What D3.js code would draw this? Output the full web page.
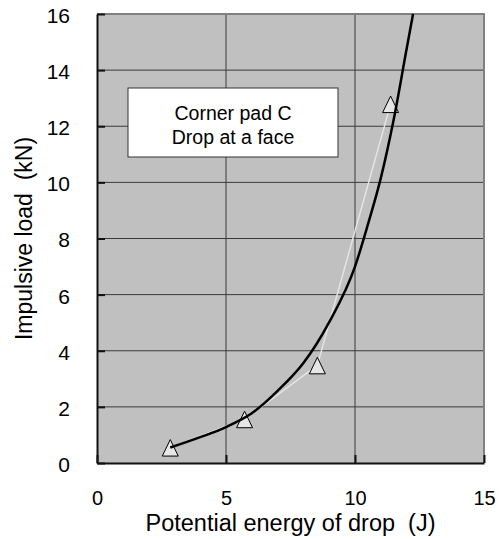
<!DOCTYPE html>
<html>
<head>
<meta charset="utf-8">
<script src="https://cdn.jsdelivr.net/npm/d3@7"></script>
<style>
  body { margin: 0; background: #fff; }
  text { font-family: "Liberation Sans", Arial, sans-serif; }
</style>
</head>
<body>
<div class="chart-container"></div>
<script>
// measured drops (triangles)
const energy = [2.84, 5.72, 8.54, 11.38]
const load = [0.55, 1.56, 3.48, 12.79]

// black fitted curve
const fitEnergy = [2.84, 4, 5, 6, 7, 8, 9, 10, 10.5, 11, 11.5, 12, 12.25]
const fitLoad = [0.55, 0.92, 1.28, 1.77, 2.57, 3.56, 5.02, 7.0, 8.5, 10.15, 12.24, 14.75, 16]

const xTicks = [0, 5, 10, 15]
const yTicks = [0, 2, 4, 6, 8, 10, 12, 14, 16]
const boxLines = ['Corner pad C', 'Drop at a face']

let dimensions = {
    width: 503,
    height: 539,
    margin: {
        top: 14,
        bottom: 76,
        left: 97,
        right: 19
    }
}

const svg = d3.select('.chart-container')
    .append('svg')
    .attr('width', dimensions.width)
    .attr('height', dimensions.height)

const container = svg.append('g')
    .attr('transform', `translate(${dimensions.margin.left},${dimensions.margin.top})`)

const containerWidth = dimensions.width - dimensions.margin.left - dimensions.margin.right
const containerHeight = dimensions.height - dimensions.margin.top - dimensions.margin.bottom

const xScale = d3.scaleLinear()
    .domain([0, 15])
    .range([0, containerWidth])

const yScale = d3.scaleLinear()
    .domain([0, 16])
    .range([containerHeight, 0])

// plot background
container.append('rect')
    .attr('width', containerWidth)
    .attr('height', containerHeight)
    .attr('fill', '#c0c0c0')

// grid
container.append('g')
    .selectAll('line')
    .data(xTicks.slice(1, -1))
    .join('line')
    .attr('x1', d => xScale(d)).attr('x2', d => xScale(d))
    .attr('y1', 0).attr('y2', containerHeight)
    .attr('stroke', '#3a3a3a')
    .attr('stroke-width', 1)

container.append('g')
    .selectAll('line')
    .data(yTicks.slice(1, -1))
    .join('line')
    .attr('x1', 0).attr('x2', containerWidth)
    .attr('y1', d => yScale(d)).attr('y2', d => yScale(d))
    .attr('stroke', '#3a3a3a')
    .attr('stroke-width', 1)

// top and right border
container.append('path')
    .attr('d', `M0,0H${containerWidth}V${containerHeight}`)
    .attr('fill', 'none')
    .attr('stroke', '#808080')
    .attr('stroke-width', 2)

// X Axis
const xAxis = d3.axisBottom(xScale)
    .tickValues(xTicks)
    .tickSizeInner(-8)
    .tickSizeOuter(0)
    .tickPadding(28)

const xAxisGroup = container.append('g')
    .attr('transform', `translate(0, ${containerHeight})`)
    .call(xAxis)
xAxisGroup.select('.domain').attr('stroke', '#111').attr('stroke-width', 2)
xAxisGroup.selectAll('.tick line').attr('stroke', '#111').attr('stroke-width', 2)
xAxisGroup.selectAll('text')
    .attr('font-size', '20px')
    .attr('fill', '#000')
    .style('font-family', '"Liberation Sans", Arial, sans-serif')

container.append('text')
    .attr('x', containerWidth / 2)
    .attr('y', containerHeight + 68)
    .attr('font-size', '23.5px')
    .attr('text-anchor', 'middle')
    .style('white-space', 'pre')
    .text('Potential energy of drop  (J)')

// Y Axis
const yAxis = d3.axisLeft(yScale)
    .tickValues(yTicks)
    .tickSizeInner(-8)
    .tickSizeOuter(0)
    .tickPadding(27)

const yAxisGroup = container.append('g')
    .call(yAxis)
yAxisGroup.select('.domain').attr('stroke', '#111').attr('stroke-width', 2)
yAxisGroup.selectAll('.tick line').attr('stroke', '#111').attr('stroke-width', 2)
yAxisGroup.selectAll('text')
    .attr('font-size', '21px')
    .attr('dy', '0.4em')
    .attr('fill', '#000')
    .style('font-family', '"Liberation Sans", Arial, sans-serif')

container.append('text')
    .attr('x', -containerHeight / 2)
    .attr('y', -65)
    .attr('font-size', '23px')
    .attr('text-anchor', 'middle')
    .attr('transform', 'rotate(-90)')
    .style('white-space', 'pre')
    .text('Impulsive load  (kN)')

// label box
const box = container.append('g')
    .attr('transform', `translate(31, 74)`)

box.append('rect')
    .attr('width', 210)
    .attr('height', 69)
    .attr('fill', '#fff')
    .attr('stroke', '#333')
    .attr('stroke-width', 1)

box.selectAll('text')
    .data(boxLines)
    .join('text')
    .attr('x', 105)
    .attr('y', (d, i) => 32 + i * 24)
    .attr('font-size', '19.5px')
    .attr('text-anchor', 'middle')
    .text(d => d)

// measured points: light line
const points = energy.map((e, i) => ({ x: e, y: load[i] }))

container.append('path')
    .datum(points)
    .attr('d', d3.line().x(d => xScale(d.x)).y(d => yScale(d.y)))
    .attr('fill', 'none')
    .attr('stroke', '#e4e4e4')
    .attr('stroke-width', 1.5)

// triangles
container.selectAll('.marker')
    .data(points)
    .join('path')
    .attr('class', 'marker')
    .attr('transform', d => `translate(${xScale(d.x)},${yScale(d.y)})`)
    .attr('d', 'M0,-8L8,8.5L-8,8.5Z')
    .attr('fill', '#e6e6e6')
    .attr('stroke', '#000')
    .attr('stroke-width', 1)

// fitted curve
const fit = fitEnergy.map((e, i) => ({ x: e, y: fitLoad[i] }))

container.append('path')
    .datum(fit)
    .attr('d', d3.line().curve(d3.curveMonotoneX).x(d => xScale(d.x)).y(d => yScale(d.y)))
    .attr('fill', 'none')
    .attr('stroke', '#000')
    .attr('stroke-width', 2.5)
</script>
</body>
</html>
